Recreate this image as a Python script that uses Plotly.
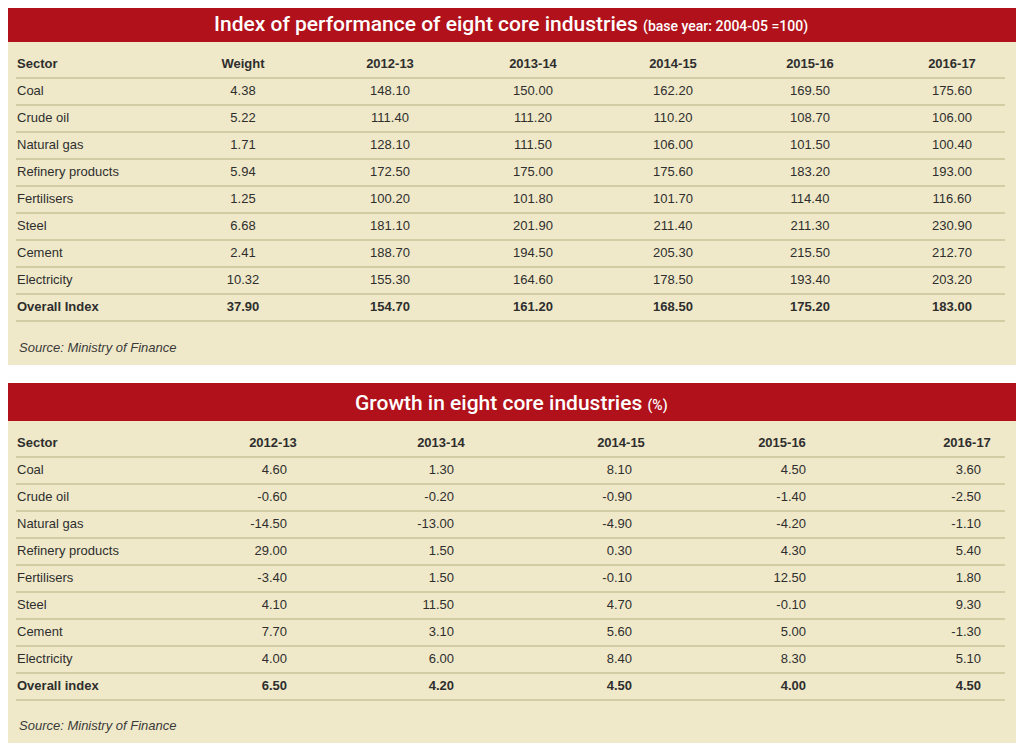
import plotly.graph_objects as go

# ── Data ──────────────────────────────────────────────────────────────────
sectors = ["Coal", "Crude oil", "Natural gas", "Refinery products", "Fertilisers",
           "Steel", "Cement", "Electricity"]
years = ["2012-13", "2013-14", "2014-15", "2015-16", "2016-17"]

weight = [4.38, 5.22, 1.71, 5.94, 1.25, 6.68, 2.41, 10.32]
weight_total = 37.90

index_2012 = [148.10, 111.40, 128.10, 172.50, 100.20, 181.10, 188.70, 155.30]
index_2013 = [150.00, 111.20, 111.50, 175.00, 101.80, 201.90, 194.50, 164.60]
index_2014 = [162.20, 110.20, 106.00, 175.60, 101.70, 211.40, 205.30, 178.50]
index_2015 = [169.50, 108.70, 101.50, 183.20, 114.40, 211.30, 215.50, 193.40]
index_2016 = [175.60, 106.00, 100.40, 193.00, 116.60, 230.90, 212.70, 203.20]
index_overall = [154.70, 161.20, 168.50, 175.20, 183.00]

growth_2012 = [4.60, -0.60, -14.50, 29.00, -3.40, 4.10, 7.70, 4.00]
growth_2013 = [1.30, -0.20, -13.00, 1.50, 1.50, 11.50, 3.10, 6.00]
growth_2014 = [8.10, -0.90, -4.90, 0.30, -0.10, 4.70, 5.60, 8.40]
growth_2015 = [4.50, -1.40, -4.20, 4.30, 12.50, -0.10, 5.00, 8.30]
growth_2016 = [3.60, -2.50, -1.10, 5.40, 1.80, 9.30, -1.30, 5.10]
growth_overall = [6.50, 4.20, 4.50, 4.00, 4.50]

# ── Styling / layout constants ────────────────────────────────────────────
# the page body keeps an 8px margin, so the figure is 16px smaller than the
# window and the axes are laid out in window pixels
W, H = 1024, 751
PAD = 8
RED = "#b0111a"
BEIGE = "#efe9c9"
RULE = "#c9c398"
INK = "#2e2e2e"
BODY = "Liberation Sans, Arial, sans-serif"
TITLE = "Roboto, Liberation Sans, sans-serif"
SIZE = 13
PITCH = 27

fig = go.Figure()


def text_col(x, ys, labels, pos="middle center", bold=False):
    fig.add_trace(go.Scatter(
        x=[x] * len(ys), y=ys, mode="text", text=labels, textposition=pos,
        textfont=dict(family=BODY, size=SIZE, color=INK,
                      weight="bold" if bold else "normal"),
        hoverinfo="skip", showlegend=False,
    ))


def panel(top, bottom, head_bottom, title_html, header_y):
    fig.add_shape(type="rect", x0=4, x1=1017, y0=head_bottom, y1=bottom,
                  fillcolor=BEIGE, line_width=0, layer="below")
    fig.add_shape(type="rect", x0=4, x1=1018, y0=top, y1=head_bottom,
                  fillcolor=RED, line_width=0, layer="below")
    fig.add_annotation(x=511, y=(top + head_bottom) / 2 + 1, text=title_html,
                       showarrow=False, xanchor="center", yanchor="middle",
                       font=dict(family=TITLE, size=21, color="white", weight=500))
    # horizontal rules: under header and under each row
    n = len(sectors) + 1
    for i in range(n + 1):
        y = header_y + PITCH * i + 13
        fig.add_shape(type="line", x0=16, x1=1005, y0=y, y1=y,
                      line=dict(color=RULE, width=1.3), layer="below")


def fmt(v):
    return f"{v:.2f}"


# ── Top table: index of performance ───────────────────────────────────────
TOP_HDR = 65
top_rows = [TOP_HDR + PITCH * (i + 1) for i in range(len(sectors))]
top_overall = TOP_HDR + PITCH * (len(sectors) + 1)
panel(4, 365, 42,
      "Index of performance of eight core industries "
      "<span style='font-size:14px'>(base year: 2004-05 =100)</span>", TOP_HDR)

text_col(17, [TOP_HDR], ["Sector"], "middle right", bold=True)
text_col(17, top_rows, sectors, "middle right")
text_col(17, [top_overall], ["Overall Index"], "middle right", bold=True)

top_cols = [243, 390, 533, 673, 810, 952]
top_heads = ["Weight"] + years
top_series = [weight, index_2012, index_2013, index_2014, index_2015, index_2016]
top_totals = [weight_total] + index_overall
for x, head, vals, tot in zip(top_cols, top_heads, top_series, top_totals):
    text_col(x, [TOP_HDR], [head], bold=True)
    text_col(x, top_rows, [fmt(v) for v in vals])
    text_col(x, [top_overall], [fmt(tot)], bold=True)

fig.add_annotation(x=17, y=347, text="<i>Source: Ministry of Finance</i>",
                   showarrow=False, xanchor="left", yanchor="middle",
                   font=dict(family=BODY, size=SIZE, color="#3a3a3a"))

# ── Bottom table: growth ──────────────────────────────────────────────────
BOT_HDR = 444
bot_rows = [BOT_HDR + PITCH * (i + 1) for i in range(len(sectors))]
bot_overall = BOT_HDR + PITCH * (len(sectors) + 1)
panel(383, 743, 421,
      "Growth in eight core industries "
      "<span style='font-size:14px'>(%)</span>", BOT_HDR)

text_col(17, [BOT_HDR], ["Sector"], "middle right", bold=True)
text_col(17, bot_rows, sectors, "middle right")
text_col(17, [bot_overall], ["Overall index"], "middle right", bold=True)

bot_head_x = [273, 441, 621, 782, 967]
bot_val_x = [287, 454, 632, 806, 981]
bot_series = [growth_2012, growth_2013, growth_2014, growth_2015, growth_2016]
for hx, vx, head, vals, tot in zip(bot_head_x, bot_val_x, years, bot_series, growth_overall):
    text_col(hx, [BOT_HDR], [head], bold=True)
    text_col(vx, bot_rows, [fmt(v) for v in vals], "middle left")
    text_col(vx, [bot_overall], [fmt(tot)], "middle left", bold=True)

fig.add_annotation(x=17, y=725, text="<i>Source: Ministry of Finance</i>",
                   showarrow=False, xanchor="left", yanchor="middle",
                   font=dict(family=BODY, size=SIZE, color="#3a3a3a"))

fig.update_xaxes(range=[PAD, W - PAD], visible=False, fixedrange=True)
fig.update_yaxes(range=[H - PAD, PAD], visible=False, fixedrange=True)
fig.update_layout(
    width=W - 2 * PAD, height=H - 2 * PAD,
    margin=dict(l=0, r=0, t=0, b=0),
    paper_bgcolor="white", plot_bgcolor="white",
    showlegend=False,
)
fig.write_html("out.html")
